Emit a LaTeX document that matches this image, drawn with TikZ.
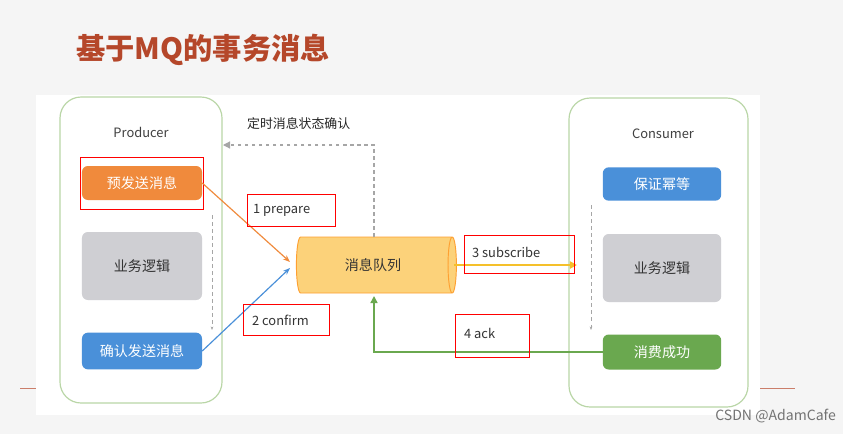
\documentclass[tikz,border=0pt]{standalone}
\usepackage{fontspec}
\setmainfont{Noto Sans CJK SC}
\usetikzlibrary{shapes.geometric,arrows.meta}
\definecolor{brn}{HTML}{B5472A}
\definecolor{cont}{HTML}{B9D6A6}
\definecolor{org}{HTML}{F08A3C}
\definecolor{gry}{HTML}{CFCFD3}
\definecolor{blu}{HTML}{4A90D9}
\definecolor{grn}{HTML}{6AA84F}
\definecolor{yel}{HTML}{FCD27A}
\definecolor{yarr}{HTML}{F5C02A}
\tikzset{
 container/.style={draw=cont,line width=1pt,rounded corners=18pt,fill=white},
 box/.style={rounded corners=5pt,minimum width=3.6cm,font=\fontsize{12}{14}\selectfont},
 redbox/.style={draw=red,line width=0.7pt,anchor=north west,inner sep=0pt},
 lbl/.style={font=\fontsize{11}{13}\selectfont,text=black!80,anchor=west},
 grayline/.style={draw=black!35,dashed,line width=1pt},
}
\begin{document}
\begin{tikzpicture}[x=0.03cm,y=-0.03cm]
\useasboundingbox (0,0) rectangle (843,434);
\fill[black!4] (0,0) rectangle (843,434);
\draw[brn!70,line width=0.8pt] (20,388) -- (795,388);
\fill[white] (36,95) rectangle (760,415);
\node[font=\bfseries\fontsize{25}{30}\selectfont,text=brn,anchor=west] (title) at (72,50) {基于MQ的事务消息};
% containers
\draw[container] (60,97) rectangle (222,403);
\draw[container] (569,98) rectangle (748,407);
\node[font=\fontsize{11}{13}\selectfont,text=black!75] (prod) at (141,132) {Producer};
\node[font=\fontsize{11}{13}\selectfont,text=black!75] (cons) at (663,134) {Consumer};
% producer boxes
\node[box,fill=org,text=white,minimum width=3.6cm,minimum height=1.02cm] (pre) at (142,183) {预发送消息};
\node[box,fill=gry,text=black!80,minimum width=3.6cm,minimum height=2.04cm] (biz1) at (142,266) {业务逻辑};
\node[box,fill=blu,text=white,minimum width=3.6cm,minimum height=1.1cm] (conf) at (142,351) {确认发送消息};
\node[redbox,minimum width=3.69cm,minimum height=1.56cm] (rb0) at (80,157) {};
% consumer boxes
\node[box,fill=blu,text=white,minimum width=3.55cm,minimum height=1.0cm] (idem) at (662,184) {保证幂等};
\node[box,fill=gry,text=black!80,minimum width=3.55cm,minimum height=2.04cm] (biz2) at (662,268) {业务逻辑};
\node[box,fill=grn,text=white,minimum width=3.55cm,minimum height=1.05cm] (ok) at (662,352) {消费成功};
% dashed verticals
\coordinate (pd1) at (212,215); \coordinate (pd2) at (212,330);
\draw[grayline,line width=0.7pt,-{Stealth[length=3pt]}] (pd1) -- (pd2);
\coordinate (cd1) at (591,205); \coordinate (cd2) at (591,330);
\draw[grayline,line width=0.7pt,-{Stealth[length=3pt]}] (cd1) -- (cd2);
% queue
\node[cylinder,shape border rotate=0,aspect=0.4,draw=orange!60!yel,line width=0.8pt,fill=yel,minimum width=1.68cm,minimum height=4.8cm,font=\fontsize{12}{14}\selectfont,text=black!80,inner xsep=0pt] (mq) at (373,265) {消息队列};
% timed check
\coordinate (tq) at (374,145);
\coordinate (tp) at (223,145);
\draw[grayline,-{Triangle[length=6pt,width=6pt]}] (374,237) -- (tq) -- (tp);
\node[font=\fontsize{11}{13}\selectfont,text=black!85,anchor=west] (tlab) at (243,124) {定时消息状态确认};
% arrows
\draw[org,line width=1pt,-{Stealth[length=6pt]}] (pre.east) -- (290,262);
\draw[blu,line width=1pt,-{Stealth[length=6pt]}] (conf.east) -- (290,268);
\coordinate (sub) at (577,265);
\draw[yarr,line width=1.5pt,-{Triangle[length=6pt,width=6pt]}] (454,265) -- (sub);
\coordinate (ackc) at (374,352);
\draw[grn,line width=1.2pt,-{Triangle[length=6pt,width=6pt]}] (ok.west) -- (ackc) -- (374,296);
% label boxes
\node[redbox,minimum width=2.64cm,minimum height=0.96cm] (rb1) at (247,194) {};
\node[lbl] (l1) at (249,210) {1 prepare};
\node[redbox,minimum width=2.58cm,minimum height=0.93cm] (rb2) at (243,304) {};
\node[lbl] (l2) at (248,320) {2 confirm};
\node[redbox,minimum width=3.3cm,minimum height=1.14cm] (rb3) at (464,235) {};
\node[lbl] (l3) at (468,252) {3 subscribe};
\node[redbox,minimum width=2.22cm,minimum height=1.29cm] (rb4) at (455,314) {};
\node[lbl] (l4) at (460,333) {4 ack};
\node[font=\fontsize{12}{14}\selectfont,text=black!55,anchor=east] (csdn) at (840,416) {CSDN @AdamCafe};
\end{tikzpicture}
\end{document}
